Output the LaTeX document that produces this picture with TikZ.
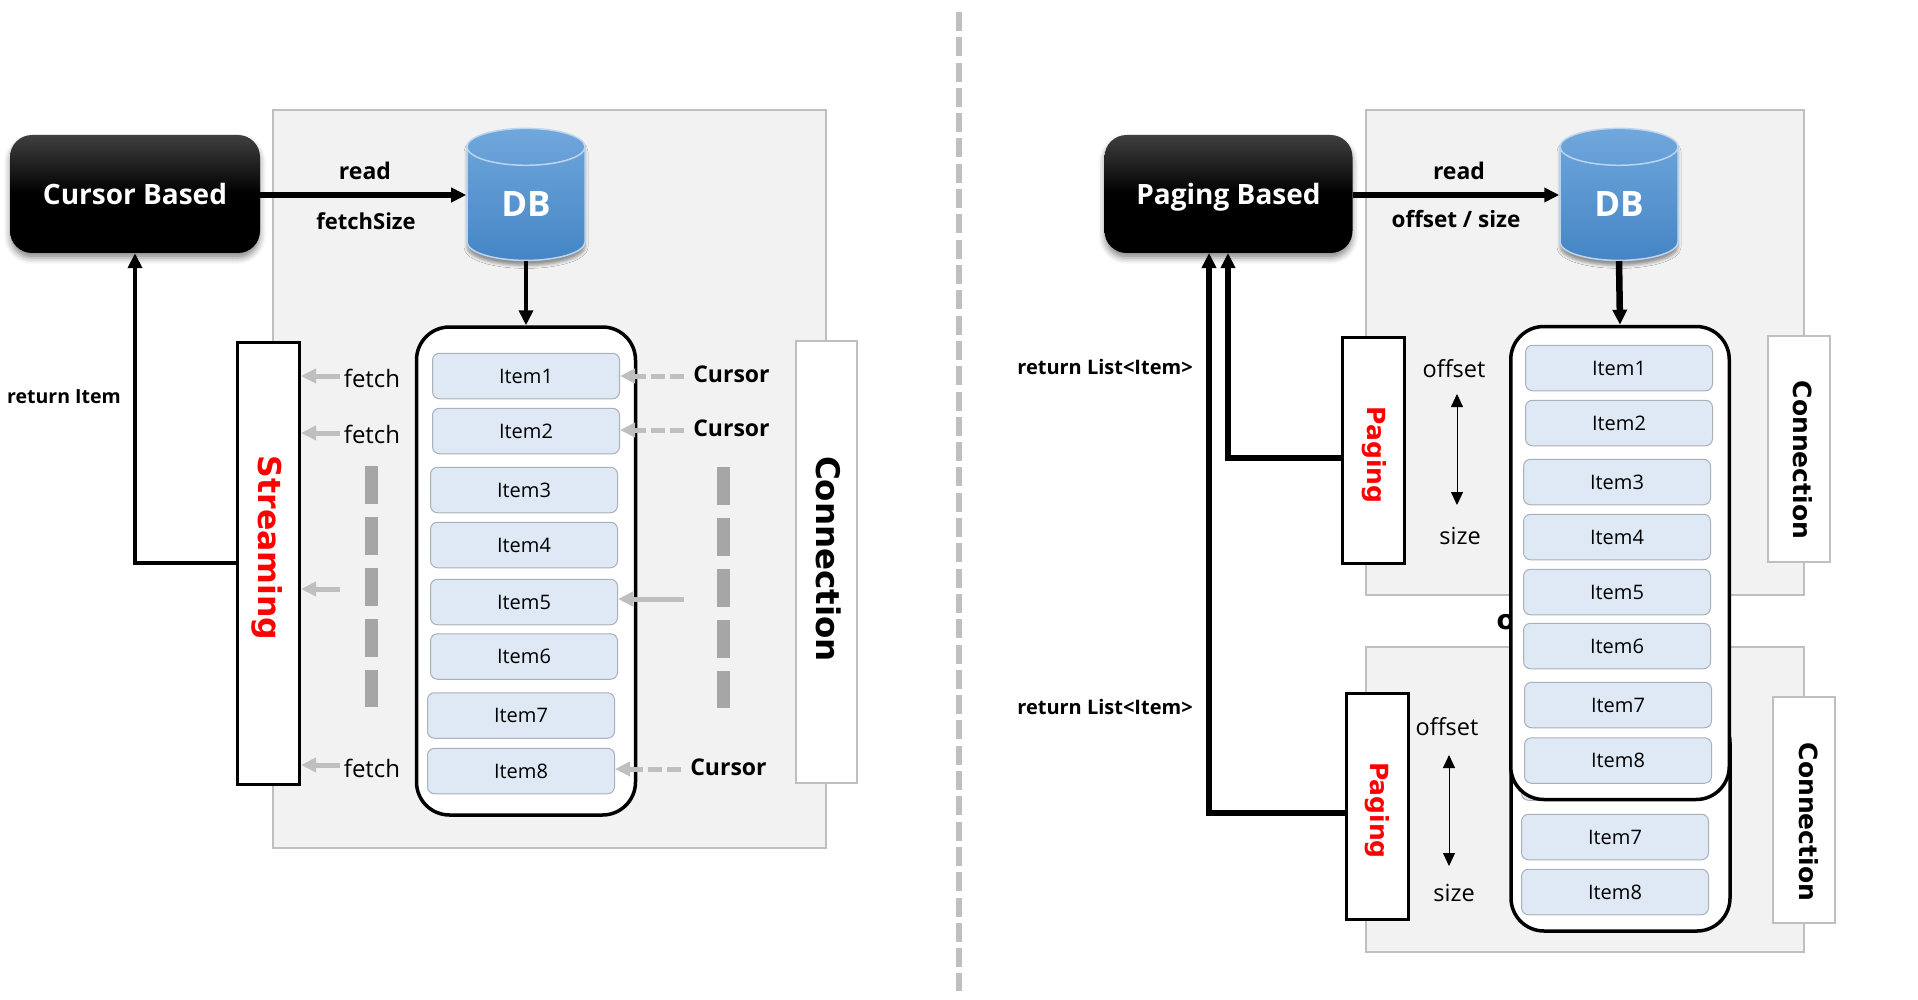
\documentclass[tikz,border=0pt]{standalone}
\usepackage{fontspec}
\setmainfont{Open Sans}
\newfontfamily\sidefont{DejaVu Sans}
\usetikzlibrary{arrows.meta, shapes.geometric, shadows.blur, positioning}

\definecolor{panelgray}{HTML}{F2F2F2}
\definecolor{linegray}{HTML}{BFBFBF}
\definecolor{dashgray}{HTML}{A6A6A6}
\definecolor{itemblue}{HTML}{DEE9F5}
\definecolor{itemline}{HTML}{ABB0B8}
\definecolor{dbtop}{HTML}{70A7DC}
\definecolor{dbbottom}{HTML}{4585C5}
\definecolor{dbline}{HTML}{BBD5EE}

\tikzset{
  panel/.style={rectangle,draw=linegray,fill=panelgray,line width=2pt,inner sep=0pt},
  based node/.style={rectangle,rounded corners=22pt,top color=black!75,bottom color=black,middle color=black,
    minimum width=250pt,minimum height=118pt,inner sep=0pt,text=white,text height=28pt,text depth=6pt,
    font=\fontsize{28}{32}\selectfont\bfseries,blur shadow={shadow xshift=0pt,shadow yshift=-5pt,shadow blur radius=6pt,shadow opacity=45}},
  db node/.style={cylinder,shape border rotate=90,shape aspect=.746,draw=dbline,line width=1.5pt,
    top color=dbtop,bottom color=dbbottom,minimum width=118pt,minimum height=132pt,inner sep=0pt,
    text=white,font=\fontsize{35}{40}\selectfont\bfseries,blur shadow={shadow xshift=0pt,shadow yshift=-5pt,shadow blur radius=3pt,shadow opacity=40}},
  list node/.style={rectangle,rounded corners=33pt,draw=black,fill=white,line width=3.5pt,inner sep=0pt},
  item node/.style={rectangle,rounded corners=7pt,draw=itemline,fill=itemblue,line width=1pt,
    minimum width=187pt,minimum height=45.5pt,inner sep=0pt,font=\fontsize{20}{24}\selectfont},
  stream box/.style={rectangle,draw=black,fill=white,line width=3pt,inner sep=0pt},
  conn box/.style={rectangle,draw=linegray,fill=white,line width=2pt,inner sep=0pt},
  side red/.style={rotate=-90,text=red,inner sep=0pt,font=\sidefont\bfseries},
  side black/.style={rotate=-90,text=black,inner sep=0pt,font=\sidefont\bfseries},
  plain label/.style={yshift=-1pt,inner sep=0pt,font=\fontsize{24}{28}\selectfont},
  bold label/.style={yshift=-1pt,inner sep=0pt,font=\fontsize{23}{28}\selectfont\bfseries},
  heavy/.style={->,line width=5.5pt},
  gray head/.style={->,draw=linegray,line width=5pt,>={Triangle[length=15pt,width=14pt]}},
  gray dash/.style={gray head,dash pattern=on 14pt off 5pt},
  gap line/.style={draw=dashgray,line width=13pt,dash pattern=on 37.5pt off 13.5pt},
}

\begin{document}
\begin{tikzpicture}[x=1pt,y=-1pt,>={Triangle[length=15pt,width=14pt]}]
  \useasboundingbox (0,0) rectangle (1918,1000);

  % divider
  \coordinate (divtop) at (959,12);
  \coordinate (divbot) at (959,991);
  \draw[draw=linegray,line width=6pt,dash pattern=on 19pt off 6.3pt] (divtop) -- (divbot);

  % cursor side
  \node[panel,minimum width=553pt,minimum height=738pt] (Lpanel) at (549,479) {};
  \node[based node] (Cursor) at (135,194) {Cursor Based};
  \node[db node] (Ldb) at (526,204) {DB};
  \node[list node,minimum width=219pt,minimum height=488pt] (Llist) at (526,571) {};
  \foreach \n/\cx/\cy in {1/526/376,2/526/431,3/524/490,4/524/545,5/524/602,6/524/656.5,7/521/715.5,8/521/771} {
    \node[item node] (L\n) at (\cx,\cy) {\raisebox{-1pt}{Item\n}};}
  \node[stream box,minimum width=62pt,minimum height=442pt] (Stream) at (268.5,563) {};
  \node[conn box,minimum width=61pt,minimum height=442pt] (Lconn) at (826.5,562) {};
  \node[side red,font=\sidefont\bfseries\fontsize{31.5}{36}\selectfont] (Streamtext) at (267,548) {Streaming};
  \node[side black,font=\sidefont\bfseries\fontsize{32.5}{36}\selectfont] (Lconntext) at (829,559) {Connection};

  \node[bold label] (Lread) at (365,170) {read};
  \node[bold label,font=\fontsize{22}{26}\selectfont\bfseries] (fetchsize) at (366,220) {fetchSize};
  \node[bold label,font=\fontsize{19.5}{24}\selectfont\bfseries] (retitem) at (64,396) {return Item};
  \node[plain label] (fetch1) at (372,377) {fetch};
  \node[plain label] (fetch2) at (372,433) {fetch};
  \node[plain label] (fetch3) at (372,767) {fetch};
  \node[bold label] (cur1) at (731.5,373) {Cursor};
  \node[bold label] (cur2) at (731.5,427) {Cursor};
  \node[bold label] (cur3) at (728.5,766) {Cursor};

  \draw[heavy] ([yshift=-1pt]Cursor.east) -- ([yshift=-1pt]Ldb.west |- Cursor.east);
  \draw[->,line width=4.5pt] (Ldb.south) -- (Llist.north);
  \draw[->,line width=4.5pt] (Stream.west) -| (Cursor.south);

  \foreach \s/\y in {f1/376,f2/433,f3/589,f4/765} {
    \coordinate (\s) at (340,\y);
    \draw[gray head] (\s) -- (\s -| Stream.east);}
  \foreach \s/\t/\x/\y in {c1/L1/684/376,c2/L2/684/430,c4/L8/681/769} {
    \coordinate (\s) at (\x,\y);
    \draw[gray dash] (\s) -- (\s -| \t.east);}
  \coordinate (c3) at (684,599);
  \draw[gray head] (c3) -- (c3 -| L5.east);

  \coordinate (g1a) at (371,466);
  \coordinate (g1b) at (371,707);
  \coordinate (g2a) at (723,467);
  \coordinate (g2b) at (723,708);
  \draw[gap line] (g1a) -- (g1b);
  \draw[gap line] (g2a) -- (g2b);

  % paging side
  \node[panel,minimum width=438pt,minimum height=485pt] (Rpanel1) at (1584.5,352.5) {};
  \node[panel,minimum width=438pt,minimum height=305pt] (Rpanel2) at (1584.5,799.5) {};
  \node[based node,minimum width=248pt] (Paging) at (1228.5,194) {Paging Based};
  \node[db node] (Rdb) at (1619,204) {DB};
  \node[list node,minimum width=219pt,minimum height=221pt] (Rback) at (1620.5,820.5) {};
  \node[item node] (B6) at (1615,777.5) {};
  \node[item node] (B7) at (1615,837) {\raisebox{-1pt}{Item7}};
  \node[item node] (B8) at (1615,892) {\raisebox{-1pt}{Item8}};
  \node[inner sep=0pt,font=\sidefont\bfseries\fontsize{27}{30}\selectfont] (cut) at (1506,622) {o};
  \node[list node,minimum width=218.5pt,minimum height=473pt] (Rlist) at (1620,563) {};
  \foreach \n/\cx/\cy in {1/1619/368,2/1619/423,3/1617/482,4/1617/537,5/1617/592,6/1617/646,7/1618/705,8/1618/760.5} {
    \node[item node] (R\n) at (\cx,\cy) {\raisebox{-1pt}{Item\n}};}
  \node[stream box,minimum width=62pt,minimum height=226pt] (Page1) at (1373,450) {};
  \node[stream box,minimum width=62pt,minimum height=226pt] (Page2) at (1377.75,806) {};
  \node[conn box,minimum width=62pt,minimum height=226pt] (Rconn1) at (1799,449) {};
  \node[conn box,minimum width=62pt,minimum height=226pt] (Rconn2) at (1804,810) {};
  \node[side red,font=\sidefont\bfseries\fontsize{25}{28}\selectfont] (Page1text) at (1374,455) {Paging};
  \node[side red,font=\sidefont\bfseries\fontsize{25}{28}\selectfont] (Page2text) at (1377,810.5) {Paging};
  \node[side black,font=\sidefont\bfseries\fontsize{25}{28}\selectfont] (Rconn1text) at (1803,460) {Connection};
  \node[side black,font=\sidefont\bfseries\fontsize{25}{28}\selectfont] (Rconn2text) at (1809,822) {Connection};

  \node[bold label] (Rread) at (1459,170) {read};
  \node[bold label,font=\fontsize{22.5}{26}\selectfont\bfseries] (offsize) at (1456,218.5) {offset / size};
  \node[bold label,font=\fontsize{20}{24}\selectfont\bfseries] (retlist1) at (1105,366) {return List<Item>};
  \node[bold label,font=\fontsize{20}{24}\selectfont\bfseries] (retlist2) at (1105,706) {return List<Item>};
  \node[plain label,font=\fontsize{23.5}{28}\selectfont] (off1) at (1454,368) {offset};
  \node[plain label,font=\fontsize{23.5}{28}\selectfont] (size1) at (1460,535) {size};
  \node[plain label,font=\fontsize{23.5}{28}\selectfont] (off2) at (1447,726) {offset};
  \node[plain label,font=\fontsize{23.5}{28}\selectfont] (size2) at (1454,892) {size};

  \draw[heavy] ([yshift=-1pt]Paging.east) -- ([yshift=-1pt]Rdb.west |- Paging.east);
  \draw[->,line width=6.5pt] (Rdb.south) -- (Rlist.north);
  \coordinate (inup) at (1228,253);
  \coordinate (outup) at (1209,253);
  \draw[heavy] ([yshift=-8pt]Page1.west) -| (inup);
  \draw[heavy] ([yshift=-7pt]Page2.west) -| (outup);

  \coordinate (a1) at (1457,394);
  \coordinate (a2) at (1457,505);
  \coordinate (a3) at (1449,755);
  \coordinate (a4) at (1449,866);
  \draw[<->,line width=1pt,>={Triangle[length=13pt,width=12pt]}] (a1) -- (a2);
  \draw[<->,line width=1pt,>={Triangle[length=13pt,width=12pt]}] (a3) -- (a4);
\end{tikzpicture}
\end{document}
